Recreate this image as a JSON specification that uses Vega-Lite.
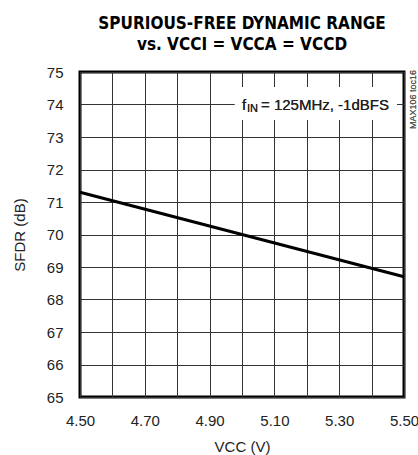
{
  "$schema": "https://vega.github.io/schema/vega-lite/v6.json",
  "autosize": "none",
  "width": 324,
  "height": 325,
  "padding": {"left": 80, "top": 72, "right": 14, "bottom": 58},
  "background": "white",
  "title": {
    "text": ["SPURIOUS-FREE DYNAMIC RANGE", "vs. VCCI = VCCA = VCCD"],
    "font": "DejaVu Sans Condensed, Liberation Sans",
    "fontSize": 17,
    "fontWeight": "bold",
    "color": "black",
    "anchor": "middle",
    "lineHeight": 21,
    "offset": 11
  },
  "config": {
    "view": {"stroke": "black", "strokeWidth": 3},
    "axis": {
      "labelFont": "Liberation Sans",
      "labelFontSize": 15,
      "labelColor": "#222",
      "titleFont": "Liberation Sans",
      "titleFontSize": 15,
      "titleFontWeight": "normal",
      "titleColor": "#222",
      "domain": false,
      "ticks": false,
      "grid": true,
      "gridColor": "#333",
      "gridWidth": 1,
      "gridOpacity": 1,
      "labelOverlap": false
    }
  },
  "data": {"values": [
    {"vcc": 4.5, "sfdr": 71.3},
    {"vcc": 5.5, "sfdr": 68.7}
  ]},
  "layer": [
    {
      "mark": {"type": "line", "color": "black", "strokeWidth": 3},
      "encoding": {
        "x": {
          "field": "vcc", "type": "quantitative",
          "scale": {"domain": [4.5, 5.5], "nice": false, "zero": false},
          "axis": {"grid": true, "labelOverlap": false, "values": [4.5, 4.6, 4.7, 4.8, 4.9, 5.0, 5.1, 5.2, 5.3, 5.4, 5.5], "format": ".2f", "labelExpr": "round(datum.value*10) % 2 == 1 ? datum.label : ''", "labelPadding": 16, "labelFlush": false, "title": "VCC (V)", "titlePadding": 11}
        },
        "y": {
          "field": "sfdr", "type": "quantitative",
          "scale": {"domain": [65, 75], "nice": false, "zero": false},
          "axis": {"grid": true, "labelOverlap": false, "values": [65, 66, 67, 68, 69, 70, 71, 72, 73, 74, 75], "labelPadding": 17, "title": "SFDR (dB)", "titlePadding": 19}
        }
      }
    },
    {
      "mark": {"type": "rect", "color": "white"},
      "encoding": {
        "x": {"datum": 4.978, "type": "quantitative",
          "axis": {"grid": true, "labelOverlap": false, "values": [4.5, 4.6, 4.7, 4.8, 4.9, 5.0, 5.1, 5.2, 5.3, 5.4, 5.5], "format": ".2f", "labelExpr": "round(datum.value*10) % 2 == 1 ? datum.label : ''", "labelPadding": 16, "labelFlush": false, "title": "VCC (V)", "titlePadding": 11}},
        "x2": {"datum": 5.478},
        "y": {"datum": 74.54, "type": "quantitative",
          "axis": {"grid": true, "labelOverlap": false, "values": [65, 66, 67, 68, 69, 70, 71, 72, 73, 74, 75], "labelPadding": 17, "title": "SFDR (dB)", "titlePadding": 19}},
        "y2": {"datum": 73.52}
      }
    },
    {
      "mark": {"type": "text", "text": "f", "align": "left", "baseline": "middle", "font": "Liberation Sans", "fontSize": 15, "color": "#222"},
      "encoding": {
        "x": {"datum": 5.0, "type": "quantitative",
          "axis": {"grid": true, "labelOverlap": false, "values": [4.5, 4.6, 4.7, 4.8, 4.9, 5.0, 5.1, 5.2, 5.3, 5.4, 5.5], "format": ".2f", "labelExpr": "round(datum.value*10) % 2 == 1 ? datum.label : ''", "labelPadding": 16, "labelFlush": false, "title": "VCC (V)", "titlePadding": 11}},
        "y": {"datum": 74, "type": "quantitative",
          "axis": {"grid": true, "labelOverlap": false, "values": [65, 66, 67, 68, 69, 70, 71, 72, 73, 74, 75], "labelPadding": 17, "title": "SFDR (dB)", "titlePadding": 19}}
      }
    },
    {
      "mark": {"type": "text", "text": "IN", "align": "left", "baseline": "middle", "font": "Liberation Sans", "fontSize": 11, "color": "#222", "dx": 5, "dy": 4},
      "encoding": {
        "x": {"datum": 5.0, "type": "quantitative",
          "axis": {"grid": true, "labelOverlap": false, "values": [4.5, 4.6, 4.7, 4.8, 4.9, 5.0, 5.1, 5.2, 5.3, 5.4, 5.5], "format": ".2f", "labelExpr": "round(datum.value*10) % 2 == 1 ? datum.label : ''", "labelPadding": 16, "labelFlush": false, "title": "VCC (V)", "titlePadding": 11}},
        "y": {"datum": 74, "type": "quantitative",
          "axis": {"grid": true, "labelOverlap": false, "values": [65, 66, 67, 68, 69, 70, 71, 72, 73, 74, 75], "labelPadding": 17, "title": "SFDR (dB)", "titlePadding": 19}}
      }
    },
    {
      "mark": {"type": "text", "text": "= 125MHz, -1dBFS", "align": "left", "baseline": "middle", "font": "Liberation Sans", "fontSize": 15, "color": "#222", "dx": 19},
      "encoding": {
        "x": {"datum": 5.0, "type": "quantitative",
          "axis": {"grid": true, "labelOverlap": false, "values": [4.5, 4.6, 4.7, 4.8, 4.9, 5.0, 5.1, 5.2, 5.3, 5.4, 5.5], "format": ".2f", "labelExpr": "round(datum.value*10) % 2 == 1 ? datum.label : ''", "labelPadding": 16, "labelFlush": false, "title": "VCC (V)", "titlePadding": 11}},
        "y": {"datum": 74, "type": "quantitative",
          "axis": {"grid": true, "labelOverlap": false, "values": [65, 66, 67, 68, 69, 70, 71, 72, 73, 74, 75], "labelPadding": 17, "title": "SFDR (dB)", "titlePadding": 19}}
      }
    },
    {
      "mark": {"type": "text", "text": "MAX106 toc16", "align": "right", "baseline": "middle", "angle": 270, "font": "Liberation Sans", "fontSize": 9, "color": "#555", "xOffset": 9, "yOffset": -2},
      "encoding": {
        "x": {"datum": 5.5, "type": "quantitative",
          "axis": {"grid": true, "labelOverlap": false, "values": [4.5, 4.6, 4.7, 4.8, 4.9, 5.0, 5.1, 5.2, 5.3, 5.4, 5.5], "format": ".2f", "labelExpr": "round(datum.value*10) % 2 == 1 ? datum.label : ''", "labelPadding": 16, "labelFlush": false, "title": "VCC (V)", "titlePadding": 11}},
        "y": {"datum": 75, "type": "quantitative",
          "axis": {"grid": true, "labelOverlap": false, "values": [65, 66, 67, 68, 69, 70, 71, 72, 73, 74, 75], "labelPadding": 17, "title": "SFDR (dB)", "titlePadding": 19}}
      }
    }
  ]
}
